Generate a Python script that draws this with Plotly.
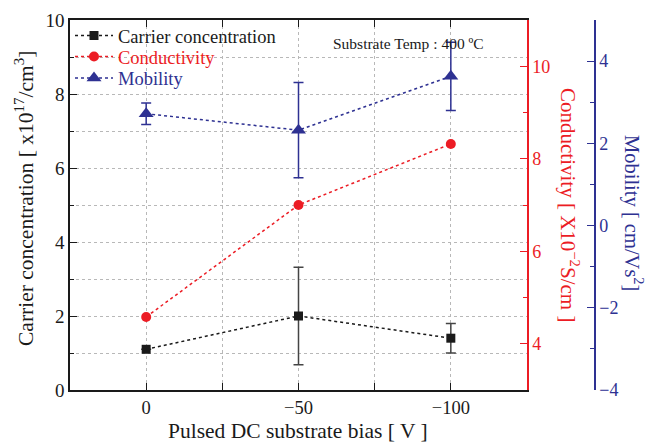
import plotly.graph_objects as go

bias = [0, -50, -100]
carrier = [1.1, 2.0, 1.4]
carrier_err = [0.0, 1.32, 0.4]
conductivity = [4.58, 7.0, 8.32]
mobility = [2.72, 2.32, 3.63]
mobility_err = [0.26, 1.16, 0.83]

BLACK = "#1a1a1a"
RED = "#ec1c24"
BLUE = "#2e3192"
FONT = "Liberation Serif"
GRID = "#b8b8b8"

W, H = 650, 445
L, R, T, B = 70, 55, 20, 55
pw = W - L - R
ph = H - T - B


def px(xp):
    return (xp - L) / pw


def py(yp):
    return 1 - (yp - T) / ph


fig = go.Figure()
fig.add_trace(go.Scatter(
    x=bias, y=carrier, mode="lines+markers",
    name="Carrier concentration", legend="legend",
    line=dict(color=BLACK, dash="dot", width=1.5),
    marker=dict(symbol="square", size=9, color=BLACK),
    error_y=dict(type="data", array=carrier_err, color="#444444", thickness=1.5, width=5),
    yaxis="y"))
fig.add_trace(go.Scatter(
    x=bias, y=conductivity, mode="lines+markers",
    name="Conductivity", legend="legend2",
    line=dict(color=RED, dash="dot", width=1.5),
    marker=dict(symbol="circle", size=10, color=RED),
    yaxis="y2"))
fig.add_trace(go.Scatter(
    x=bias, y=mobility, mode="lines+markers",
    name="Mobility", legend="legend3",
    line=dict(color=BLUE, dash="dot", width=1.5),
    marker=dict(symbol="triangle-up", size=13, color=BLUE),
    error_y=dict(type="data", array=mobility_err, color=BLUE, thickness=1.5, width=5),
    yaxis="y3"))


def ann(text, xp, yp, size, color, angle=0, xanchor="center"):
    fig.add_annotation(text=text, x=px(xp), y=py(yp), xref="paper", yref="paper",
                       xanchor=xanchor, yanchor="middle", showarrow=False,
                       textangle=angle, font=dict(family=FONT, size=size, color=color))


ann("Substrate Temp : 400 ºC", 331, 43, 15.5, BLACK, xanchor="left")
ann("Conductivity [ X10<sup>−2</sup>S/cm ]", 570, 205, 21, RED, angle=90)
ann("Mobility [ cm/Vs<sup>2</sup>]", 634, 213, 20.5, BLUE, angle=90)
ann("Carrier concentration [ x10<sup>17</sup>/cm<sup>3</sup>]", 25, 199, 21.5, BLACK, angle=-90)
ann("Pulsed DC substrate bias [ V ]", 298, 431, 21.5, BLACK)

dom_end = (527 - L) / pw


def leg(yc, color):
    return dict(x=0.0, y=py(yc), xanchor="left", yanchor="middle",
                bgcolor="rgba(0,0,0,0)", itemwidth=38,
                font=dict(family=FONT, size=18.5, color=color))


fig.update_layout(
    width=W, height=H,
    margin=dict(l=L, r=R, t=T, b=B, autoexpand=False),
    plot_bgcolor="white", paper_bgcolor="white",
    font=dict(family=FONT, size=18, color=BLACK),
    showlegend=True,
    legend=leg(36, BLACK),
    legend2=leg(57, RED),
    legend3=leg(78.5, BLUE),
    xaxis=dict(domain=[0, dom_end], range=[25, -125], tickvals=[0, -50, -100],
               ticktext=["0", "−50", "−100"], automargin=False,
               showline=True, linecolor=BLACK, linewidth=1.5, mirror="ticks",
               ticks="inside", ticklen=7, tickcolor=BLACK, tickwidth=1.2,
               showgrid=True, gridcolor=GRID, griddash="dot", gridwidth=1,
               minor=dict(tickvals=[-25, -75], ticks="inside", ticklen=7, tickcolor=BLACK,
                          showgrid=True, gridcolor=GRID, griddash="dot"),
               zeroline=False, tickfont=dict(size=18.5)),
    yaxis=dict(range=[0, 10], dtick=2, showline=True, linecolor=BLACK, linewidth=1.5,
               automargin=False,
               ticks="inside", ticklen=7, tickcolor=BLACK, tickwidth=1.2,
               showgrid=True, gridcolor=GRID, griddash="dot",
               minor=dict(dtick=1, ticks="inside", ticklen=4, tickcolor=BLACK,
                          showgrid=True, gridcolor=GRID, griddash="dot"),
               zeroline=False, tickfont=dict(size=19)),
    yaxis2=dict(range=[3, 11], tickvals=[4, 6, 8, 10], overlaying="y", side="right",
                anchor="x", showline=True, linecolor=RED, linewidth=1.5, automargin=False,
                ticks="inside", ticklen=7, tickcolor=RED, tickwidth=1.2,
                minor=dict(tickvals=[3, 5, 7, 9, 11], ticks="inside", ticklen=4, tickcolor=RED),
                showgrid=False, zeroline=False, tickfont=dict(size=18, color=RED)),
    yaxis3=dict(range=[-4, 5], tickvals=[-4, -2, 0, 2, 4],
                ticktext=["−4", "−2", "0", "2", "4"], automargin=False,
                overlaying="y", side="right", anchor="free", position=1.0,
                showline=True, linecolor=BLUE, linewidth=1.5,
                ticks="inside", ticklen=7, tickcolor=BLUE, tickwidth=1.2,
                minor=dict(tickvals=[-3, -1, 1, 3], ticks="inside", ticklen=4, tickcolor=BLUE),
                showgrid=False, zeroline=False, tickfont=dict(size=18, color=BLUE)),
)

fig.write_html("out.html")
